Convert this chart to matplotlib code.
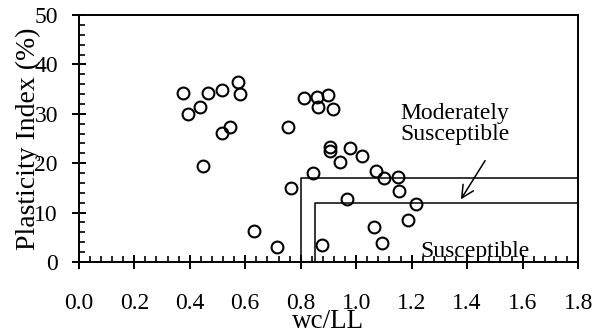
import numpy as np
import matplotlib
matplotlib.use("Agg")
import matplotlib.pyplot as plt
from matplotlib.ticker import MultipleLocator

plt.rcParams['font.family'] = ['Liberation Serif', 'DejaVu Serif']

# wc/LL and plasticity index
wc_ll = [0.376, 0.466, 0.515, 0.575, 0.581, 0.437, 0.394, 0.545, 0.515, 0.755,
         0.449, 0.812, 0.857, 0.897, 0.863, 0.918, 0.905, 0.905, 0.978, 0.942,
         1.020, 0.845, 1.072, 1.100, 1.152, 0.764, 1.155, 0.968, 1.215, 1.188,
         1.065, 0.631, 0.715, 0.876, 1.092]
pi = [34.3, 34.3, 34.8, 36.5, 34.1, 31.3, 29.9, 27.4, 26.2, 27.4,
      19.5, 33.3, 33.5, 33.8, 31.4, 30.9, 23.3, 22.5, 23.0, 20.3,
      21.5, 18.0, 18.4, 17.1, 17.3, 15.0, 14.4, 12.7, 11.7, 8.5,
      7.0, 6.3, 3.0, 3.4, 3.9]

# criteria boxes (wc/LL limit, PI limit)
mod_box = (0.80, 17)
sus_box = (0.85, 12)

fig = plt.figure(figsize=(6.06, 3.35), dpi=100)
ax = fig.add_axes([0.130, 0.218, 0.824, 0.737])

ax.plot(wc_ll, pi, 'o', mfc='none', mec='black', mew=1.5, ms=8.5, clip_on=False)

for xb, yb in (mod_box, sus_box):
    ax.plot([xb, xb, 1.8], [0, yb, yb], color='black', lw=1.1)

ax.annotate('', xy=(1.372, 12.2), xytext=(1.47, 21),
            arrowprops=dict(arrowstyle='->', color='black', lw=1.1,
                            mutation_scale=22))
ax.text(1.356, 27.9, 'Moderately\nSusceptible', ha='center', va='center',
        fontsize=17, linespacing=1.0)
ax.text(1.43, 1.0, 'Susceptible', ha='center', va='baseline', fontsize=17)

ax.set_xlim(0, 1.8)
ax.set_ylim(0, 50)
ax.xaxis.set_minor_locator(MultipleLocator(0.04))
ax.yaxis.set_major_locator(MultipleLocator(10))
ax.yaxis.set_minor_locator(MultipleLocator(2))
xt = np.arange(0, 1.81, 0.2)
ax.set_xticks(xt)
ax.set_xticklabels(['%.1f' % v for v in xt])

ax.tick_params(which='major', direction='inout', length=10, width=1.4,
               labelsize=17)
ax.tick_params(which='minor', direction='in', length=4.5, width=1.2)
ax.tick_params(axis='x', which='major', pad=17)
ax.tick_params(axis='y', which='major', pad=10)
for s in ax.spines.values():
    s.set_linewidth(1.4)

ax.set_xlabel('wc/LL', fontsize=19.5)
ax.set_ylabel('Plasticity Index (%)', fontsize=20)
ax.xaxis.set_label_coords(0.5, -0.19)
ax.yaxis.set_label_coords(-0.076, 0.5)

fig.savefig('out.png', dpi=100)
